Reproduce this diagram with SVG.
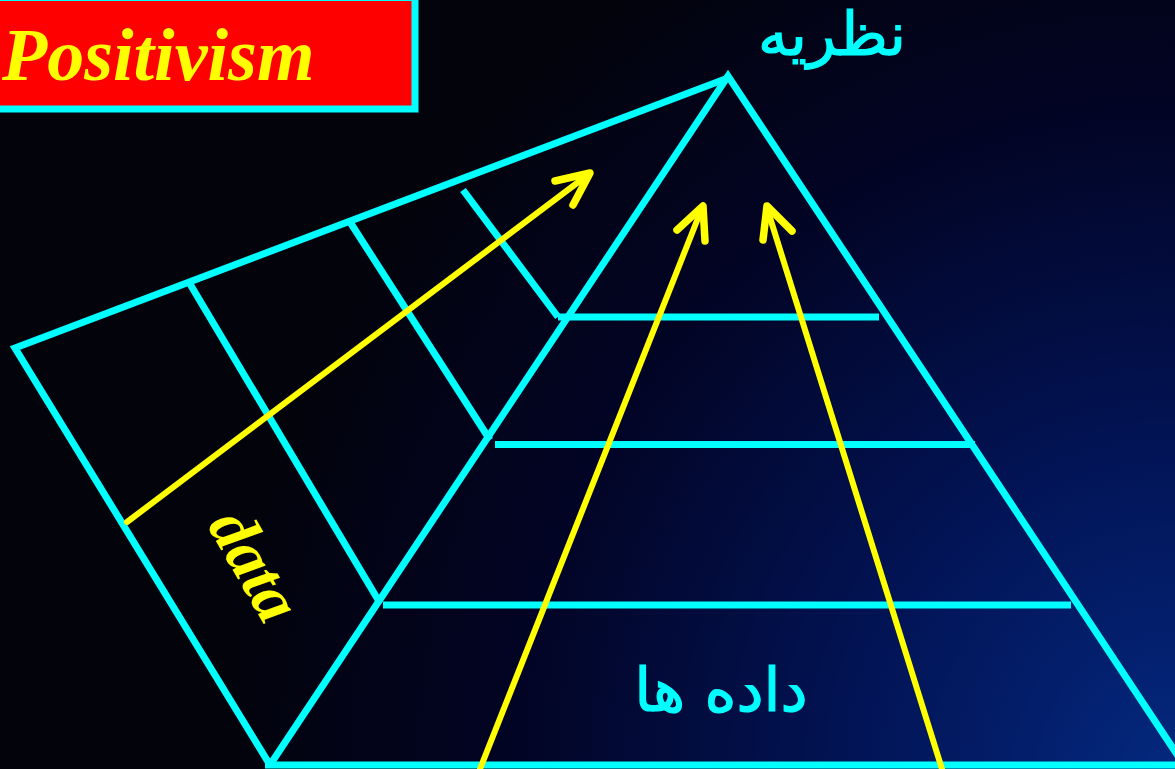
<svg xmlns="http://www.w3.org/2000/svg" width="1175" height="769" viewBox="0 0 1175 769">
<defs>
<radialGradient id="bg" gradientUnits="userSpaceOnUse" cx="1175" cy="769" r="950">
<stop offset="0" stop-color="#04287e"/>
<stop offset="0.35" stop-color="#021354"/>
<stop offset="0.7" stop-color="#020424"/>
<stop offset="1" stop-color="#03030c"/>
</radialGradient>
<style>
.cy{stroke:#00ffff;stroke-width:7;fill:none;stroke-linecap:butt;stroke-linejoin:miter}
.ye{stroke:#ffff00;stroke-width:6;fill:none;stroke-linecap:round;stroke-linejoin:round}
.yh{stroke:#ffff00;stroke-width:7.5;fill:none;stroke-linecap:round;stroke-linejoin:round}
.ar{font-family:"DejaVu Sans",sans-serif;fill:#00ffff;stroke:#00ffff;stroke-width:1.2}
.en{font-family:"Liberation Serif",serif;font-weight:bold;font-style:italic;fill:#ffff00}
</style>
</defs>
<rect x="0" y="0" width="1175" height="769" fill="url(#bg)"/>
<g id="title">
<rect x="-10" y="-2.5" width="425" height="111.5" fill="#ff0000" stroke="#00ffff" stroke-width="7"/>
<text class="en" x="2" y="80" font-size="74">Positivism</text>
</g>
<g id="connectors">
<g id="pyramid">
<path class="cy" d="M270,765 L728,76 L1184,765"/>
<line class="cy" x1="265" y1="765" x2="1175" y2="765"/>
<line class="cy" x1="558" y1="317" x2="879" y2="317"/>
<line class="cy" x1="495" y1="444.5" x2="975" y2="444.5"/>
<line class="cy" x1="383" y1="605" x2="1071" y2="605"/>
</g>
<g id="plane">
<path class="cy" d="M728,78 L15,348 L270,765"/>
<line class="cy" x1="190" y1="284" x2="380" y2="603"/>
<line class="cy" x1="350" y1="222" x2="490" y2="440"/>
<line class="cy" x1="463" y1="190" x2="558" y2="317"/>
</g>
<g id="arrows">
<line class="ye" x1="127" y1="522" x2="589" y2="174"/>
<path class="yh" d="M555,181 L590,173 L573,205"/>
<line class="ye" x1="480" y1="769" x2="702" y2="208"/>
<path class="yh" d="M677,230 L703,206 L705,241"/>
<line class="ye" x1="942" y1="769" x2="767" y2="208"/>
<path class="yh" d="M763,240 L767,206 L792,231"/>
</g>
</g>
<g id="label-theory">
<text class="ar" x="832" y="55" font-size="60" text-anchor="middle">نظریه</text>
</g>
<g id="label-data-fa">
<text class="ar" x="721" y="711" font-size="61" text-anchor="middle">داده ها</text>
</g>
<g id="label-data-en">
<text class="en" font-size="66" text-anchor="middle" transform="translate(236,576) rotate(60)">data</text>
</g>
</svg>
